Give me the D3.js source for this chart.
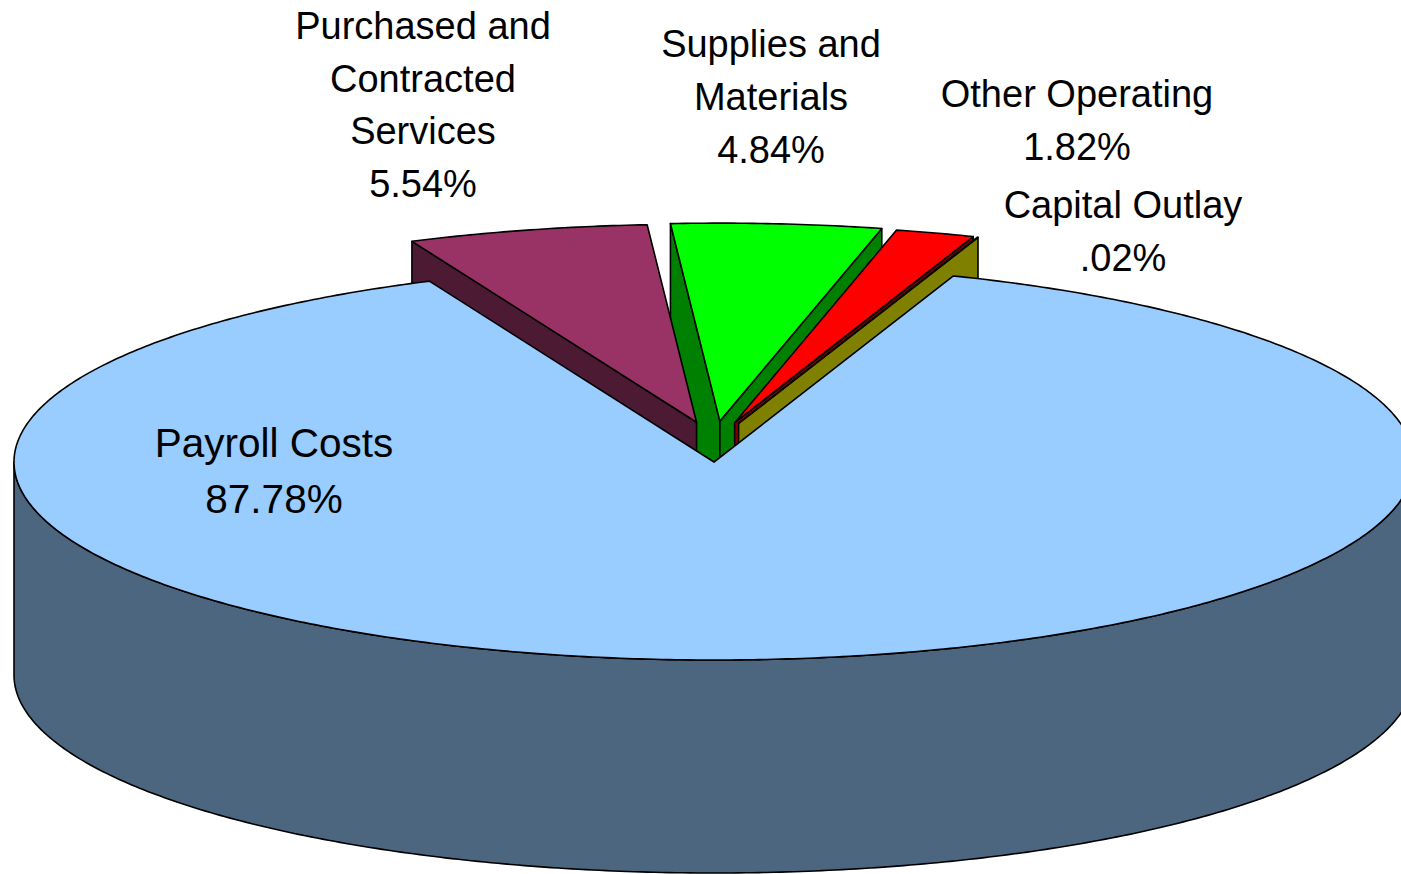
<!DOCTYPE html>
<html>
<head>
<meta charset="utf-8">
<script src="https://cdn.jsdelivr.net/npm/d3@7"></script>
<style>
  body { margin: 0; background: #fff; }
  svg { display: block; }
  text { font-family: "Liberation Sans", Arial, sans-serif; }
</style>
</head>
<body>
<svg id="chart"></svg>
<script>
// data
const categories = ["Payroll Costs", "Purchased and Contracted Services", "Supplies and Materials", "Other Operating", "Capital Outlay"];
const labelLines = [["Payroll Costs"], ["Purchased and", "Contracted", "Services"], ["Supplies and", "Materials"], ["Other Operating"], ["Capital Outlay"]];
const shares = [87.78, 5.54, 4.84, 1.82, 0.02];
const shareLabels = ["87.78%", "5.54%", "4.84%", "1.82%", ".02%"];
const exploded = [false, true, true, true, true];
const colors = ["#99CCFF", "#993366", "#00FF00", "#FF0000", "#FFFF00"];

// layout
const width = 1401, height = 874;
const cx = 714, cy = 462, rx = 700, ry = 198, depth = 213;
const rotation = 20 * Math.PI / 180;
const explodeX = 72, explodeY = 41;
// label anchors: centre x, first baseline y, font size, line gap
const labelAt = [[274, 457, 40.5, 56], [423, 39, 38, 52.5], [771, 57, 38, 53], [1077, 107, 38, 53], [1123, 218, 38, 53]];

const svg = d3.select('#chart')
    .attr('width', width)
    .attr('height', height);

const pie = d3.pie()
    .sort(null)
    .value(d => d)
    .startAngle(rotation)
    .endAngle(rotation + 2 * Math.PI);

const arcs = pie(shares).map((a, i) => {
  const mid = (a.startAngle + a.endAngle) / 2;
  return {
    i: i,
    a0: a.startAngle,
    a1: a.endAngle,
    mid: mid,
    dx: exploded[i] ? explodeX * Math.sin(mid) : 0,
    dy: exploded[i] ? -explodeY * Math.cos(mid) : 0
  };
});

function pt(s, a, down) {
  return [cx + s.dx + rx * Math.sin(a), cy + s.dy - ry * Math.cos(a) + (down || 0)];
}
function rim(s, from, to, down) {
  const n = Math.max(2, Math.ceil(Math.abs(to - from) / 0.01));
  return d3.range(n + 1).map(k => pt(s, from + (to - from) * k / n, down));
}
const line = d3.line().curve(d3.curveLinear);

function darker(c) {
  const r = d3.rgb(c);
  return d3.rgb(r.r * 0.5, r.g * 0.5, r.b * 0.5).formatHex();
}

// far slices first, front slices last
const order = arcs.slice().sort((a, b) => Math.cos(b.mid) - Math.cos(a.mid));

const g = svg.append('g');

order.forEach(s => {
  const apex = [cx + s.dx, cy + s.dy];
  const apexDown = [apex[0], apex[1] + depth];
  const side = darker(colors[s.i]);

  // curved outer wall, front half only
  [[Math.PI / 2, 3 * Math.PI / 2], [5 * Math.PI / 2, 7 * Math.PI / 2]].forEach(r => {
    const lo = Math.max(s.a0, r[0]), hi = Math.min(s.a1, r[1]);
    if (hi > lo) {
      const pts = rim(s, lo, hi, 0).concat(rim(s, hi, lo, depth));
      g.append('path')
          .attr('d', line(pts) + 'Z')
          .attr('fill', side)
          .attr('stroke', '#000')
          .attr('stroke-width', 1.6)
          .attr('stroke-linejoin', 'round');
    }
  });

  // radial walls
  const walls = [];
  if (Math.sin(s.a0) < 0) walls.push(s.a0);
  if (Math.sin(s.a1) > 0) walls.push(s.a1);
  walls.forEach(a => {
    const p = pt(s, a, 0), q = pt(s, a, depth);
    g.append('path')
        .attr('d', line([apex, p, q, apexDown]) + 'Z')
        .attr('fill', side)
        .attr('stroke', '#000')
        .attr('stroke-width', 1.6)
        .attr('stroke-linejoin', 'round');
  });

  // top face
  g.append('path')
      .attr('d', line([apex].concat(rim(s, s.a0, s.a1, 0))) + 'Z')
      .attr('fill', colors[s.i])
      .attr('stroke', '#000')
      .attr('stroke-width', 1.6)
      .attr('stroke-linejoin', 'round');
});

// labels
categories.forEach((c, i) => {
  const lines = labelLines[i].concat([shareLabels[i]]);
  const t = svg.append('text')
      .attr('text-anchor', 'middle')
      .attr('font-size', labelAt[i][2])
      .attr('fill', '#000');
  lines.forEach((l, k) => {
    t.append('tspan')
        .attr('x', labelAt[i][0])
        .attr('y', labelAt[i][1] + k * labelAt[i][3])
        .text(l);
  });
});
</script>
</body>
</html>
